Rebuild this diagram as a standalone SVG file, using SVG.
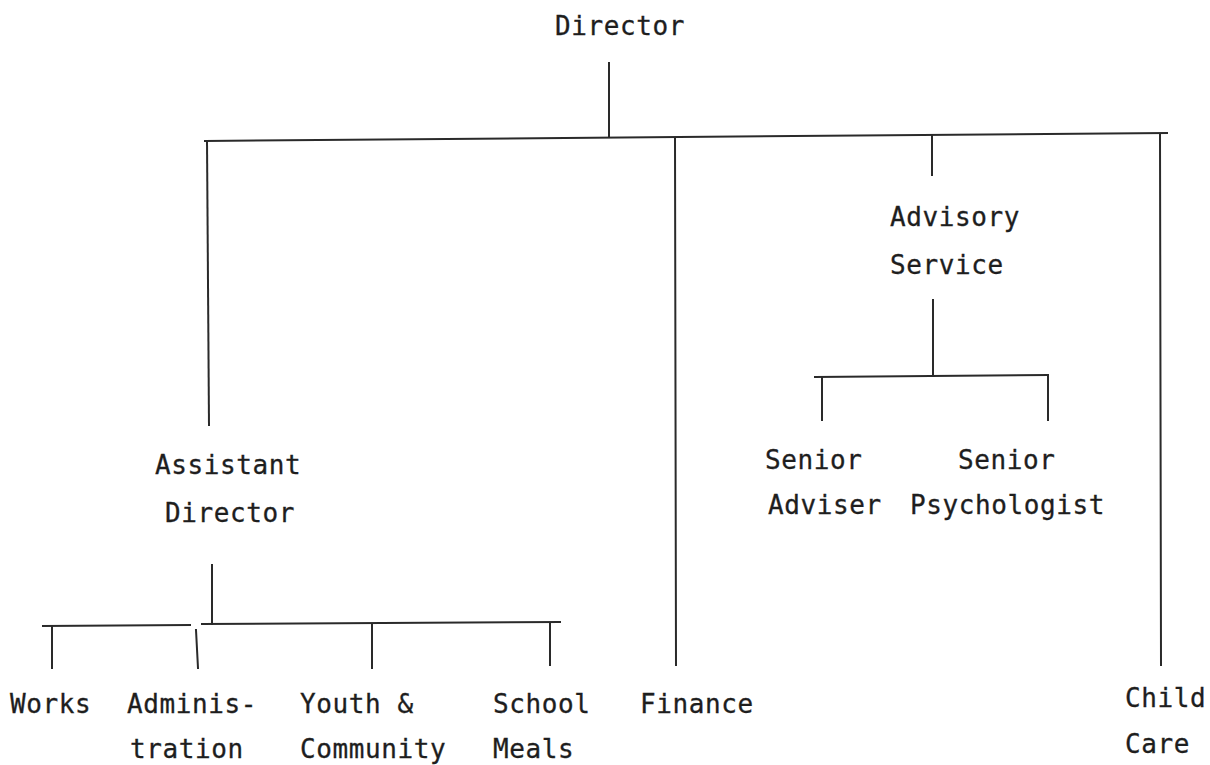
<svg xmlns="http://www.w3.org/2000/svg" width="1210" height="765" viewBox="0 0 1210 765">
<style>
text{font-family:"DejaVu Sans Mono","Liberation Mono",monospace;font-size:26px;letter-spacing:0.6px;fill:#1e1e1e;stroke:#1e1e1e;stroke-width:0.3px}
.c line{stroke:#2a2a2a;stroke-width:2;stroke-linecap:square}
</style>
<rect width="1210" height="765" fill="#fff"/>
<g id="connectors" class="c">
<line x1="609" y1="63" x2="609" y2="136"/>
<line x1="205" y1="141" x2="1167" y2="133"/>
<line x1="207" y1="141" x2="209" y2="425"/>
<line x1="675" y1="138" x2="676" y2="665"/>
<line x1="932" y1="135" x2="932" y2="175"/>
<line x1="1160" y1="134" x2="1161" y2="665"/>
<line x1="933" y1="300" x2="933" y2="376"/>
<line x1="815" y1="377" x2="1048" y2="375"/>
<line x1="822" y1="377" x2="822" y2="420"/>
<line x1="1048" y1="375" x2="1048" y2="420"/>
<line x1="212" y1="565" x2="212" y2="624"/>
<line x1="43" y1="626" x2="190" y2="625"/>
<line x1="202" y1="624" x2="560" y2="622"/>
<line x1="52" y1="626" x2="52" y2="668"/>
<line x1="196" y1="630" x2="198" y2="668"/>
<line x1="372" y1="624" x2="372" y2="668"/>
<line x1="550" y1="623" x2="550" y2="665"/>
</g>
<g id="director"><text x="555" y="35">Director</text></g>
<g id="advisory-service"><text x="890" y="226">Advisory</text><text x="890" y="274">Service</text></g>
<g id="senior-adviser"><text x="765" y="469">Senior</text><text x="768" y="514">Adviser</text></g>
<g id="senior-psychologist"><text x="958" y="469">Senior</text><text x="910" y="514">Psychologist</text></g>
<g id="assistant-director"><text x="155" y="474">Assistant</text><text x="165" y="522">Director</text></g>
<g id="works"><text x="10" y="713">Works</text></g>
<g id="administration"><text x="127" y="713">Adminis-</text><text x="130" y="758">tration</text></g>
<g id="youth-community"><text x="300" y="713">Youth &amp;</text><text x="300" y="758">Community</text></g>
<g id="school-meals"><text x="493" y="713">School</text><text x="493" y="758">Meals</text></g>
<g id="finance"><text x="640" y="713">Finance</text></g>
<g id="child-care"><text x="1125" y="707">Child</text><text x="1125" y="753">Care</text></g>
</svg>
